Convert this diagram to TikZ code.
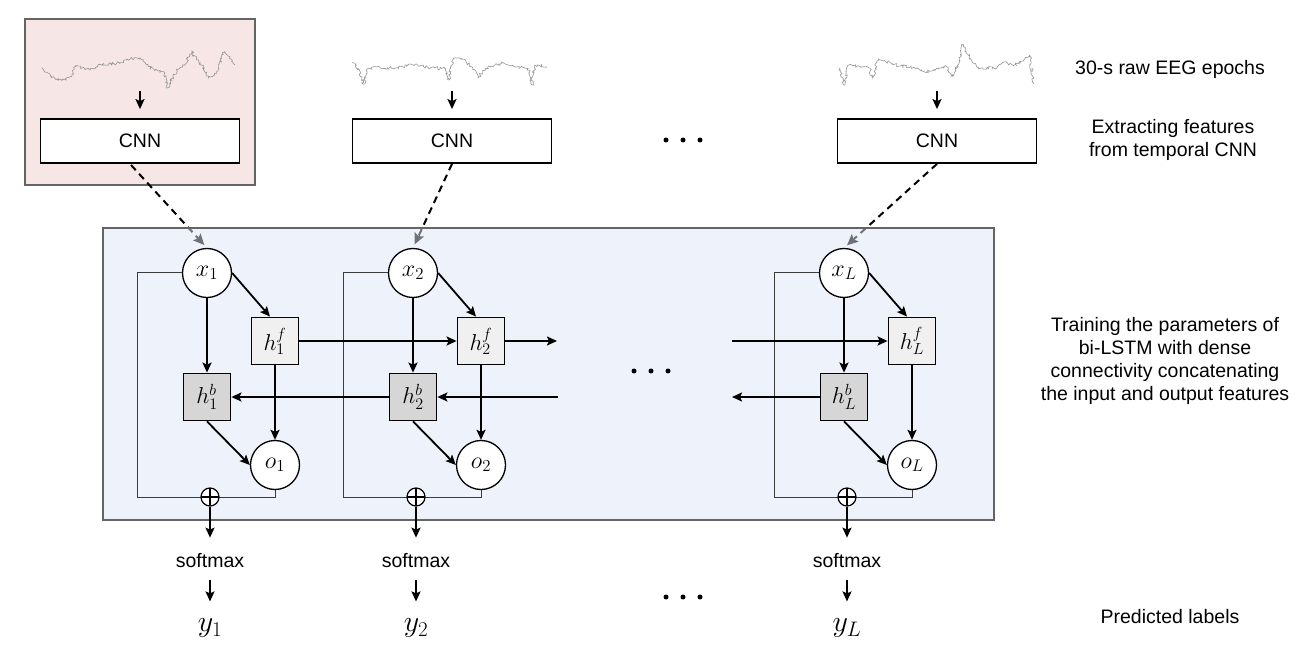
\RequirePackage{fix-cm}
\documentclass[tikz,border=0pt]{standalone}
\usepackage{fontspec}
\setmainfont{Liberation Sans}
\usetikzlibrary{arrows.meta,decorations.pathmorphing,calc}
\definecolor{pinkbg}{RGB}{247,230,230}
\definecolor{bluebg}{RGB}{221,229,245}
\definecolor{framecol}{RGB}{100,100,100}
\definecolor{hfcol}{RGB}{240,240,240}
\definecolor{hbcol}{RGB}{214,214,214}
\definecolor{eegcol}{RGB}{150,150,150}
\definecolor{loopcol}{RGB}{60,60,60}
\begin{document}
\begin{tikzpicture}[x=1pt,y=-1pt,
  lbl/.style={font=\fontsize{19.5}{23}\selectfont, align=center, inner sep=0pt},
  ylbl/.style={font=\fontsize{30}{34}\selectfont, inner sep=0pt},
  cnnbox/.style={draw, line width=1.8pt, fill=white, minimum width=199pt, minimum height=44pt, inner sep=0pt, font=\fontsize{19.5}{23}\selectfont},
  xnode/.style={circle, draw, line width=1.3pt, fill=white, minimum size=49pt, inner sep=0pt, font=\fontsize{24}{28}\selectfont},
  hfbox/.style={draw, line width=1.8pt, fill=hfcol, minimum size=47pt, inner sep=0pt, font=\fontsize{23}{27}\selectfont},
  hbbox/.style={hfbox, fill=hbcol},
  arr/.style={line width=1.8pt, -{Stealth[length=10pt,width=9pt,inset=2pt]}},
  feed/.style={line width=2pt, dash pattern=on 7pt off 5pt, -{Stealth[length=11pt,width=10pt,inset=2pt]}},
  loopline/.style={line width=1pt, draw=loopcol},
  oplus/.style={circle, draw, line width=1.2pt, fill=white, minimum size=18pt, inner sep=0pt,
    path picture={\draw[line width=1.2pt] (path picture bounding box.north) -- (path picture bounding box.south) (path picture bounding box.west) -- (path picture bounding box.east);}},
  eegline/.style={draw=eegcol, line width=0.6pt, line join=round, decorate, decoration={random steps, segment length=1.3pt, amplitude=1.6pt}},
  bigdot/.style={circle, fill=black, inner sep=0pt, minimum size=5pt}
]
\useasboundingbox (0,0) rectangle (1310,652);
\pgfmathsetseed{11}

% pink frame around first CNN
\draw[fill=pinkbg, draw=framecol, line width=2pt] (25,19) rectangle (255,185);

% EEG signals
\draw[eegline] (41.7,67.7) -- (51.7,77.7) -- (63,80) -- (71.7,76.7) -- (75,65.7) -- (90,70) -- (100,64.3) -- (116.7,63.3) -- (130,59) -- (140,57.7) -- (148.3,66.7) -- (158.3,71) -- (163.3,71.7) -- (167.7,87.7) -- (176.7,70) -- (185,65) -- (191.7,51) -- (196.7,60) -- (203.3,66.7) -- (208.3,78.3) -- (216.7,73.3) -- (222.7,52.3) -- (230,56.7) -- (235,64.3);
\draw[eegline] (352.3,62.3) -- (358.3,68.3) -- (363.3,84.3) -- (368.3,68.3) -- (378,66.7) -- (395,68.3) -- (411.7,64.3) -- (428.3,67.7) -- (445,68.3) -- (449,80) -- (453.3,58.3) -- (465,60) -- (471.7,66.7) -- (478.3,77.7) -- (485,68.3) -- (501.7,63.3) -- (518.3,66.7) -- (528.3,68.3) -- (531.7,85) -- (535,65) -- (546.7,66.7);
\draw[eegline] (840,67.7) -- (844,85) -- (848.3,65) -- (863.3,66.7) -- (870,68.3) -- (872.3,78.3) -- (878.3,59) -- (896.7,65) -- (916.7,68.3) -- (926.7,71.7) -- (946.7,66.7) -- (951.7,76.7) -- (956.7,68.3) -- (962.7,45) -- (970,58.3) -- (978.3,68.3) -- (996.7,68.3) -- (1003.3,62.3) -- (1013.3,65.7) -- (1023.3,61) -- (1030,55) -- (1033.3,83.3);
\coordinate (e1) at (140,91);
\coordinate (e2) at (452,91);
\coordinate (e3) at (937,91);

% CNN boxes
\node[cnnbox] (cnn1) at (140,141) {CNN};
\node[cnnbox] (cnn2) at (452,141) {CNN};
\node[cnnbox] (cnn3) at (937,141) {CNN};
\draw[arr, shorten >=9pt] (e1) -- (cnn1.north);
\draw[arr, shorten >=9pt] (e2) -- (cnn2.north);
\draw[arr, shorten >=9pt] (e3) -- (cnn3.north);

% feed arrows (drawn before the translucent panel)
\coordinate (xc1) at (207,248);
\coordinate (xc2) at (413,248);
\coordinate (xc3) at (844,248);
\coordinate (fs1) at (131,165);
\draw[feed, shorten >=4pt] (fs1) -- (xc1);
\draw[feed, shorten >=4pt] (cnn2.south) -- (xc2);
\draw[feed, shorten >=4pt] (cnn3.south) -- (xc3);

% blue panel
\fill[bluebg, fill opacity=0.5] (103,228) rectangle (994,520);
\draw[draw=framecol, line width=2pt] (103,228) rectangle (994,520);

% columns
\foreach \c/\X/\s in {1/207/1, 2/413/2, L/844/L}{
  \node[xnode] (x\c) at (\X,273) {$x_{\s}$};
  \node[hfbox] (hf\c) at (\X+68,341) {$h_{\s}^{f}$};
  \node[hbbox] (hb\c) at (\X,397) {$h_{\s}^{b}$};
  \node[xnode] (o\c) at (\X+68,465) {$o_{\s}$};
  \coordinate (ll\c) at (\X-70,497);
  \draw[loopline] (x\c.west) -| (ll\c) -| (o\c.south);
  \node[oplus] (p\c) at (\X+3,497) {};
  \draw[arr] (x\c.south) -- (hb\c.north);
  \draw[arr] (x\c.east) -- ([xshift=-5pt]hf\c.north);
  \draw[arr] (hf\c.south) -- (o\c.north);
  \draw[arr] (hb\c.south) -- (o\c.west);
  \node[lbl] (sm\c) at (\X+3,561) {softmax};
  \node[ylbl] (y\c) at (\X+3,628) {$y_{\s}$};
  \draw[arr, shorten >=16pt] (p\c.south) -- (sm\c.north);
  \draw[arr, shorten <=12pt, shorten >=17pt] (sm\c.south) -- (y\c.north);
}

% recurrent connections
\coordinate (fo2) at (557,341);
\coordinate (fiL) at (732,341);
\coordinate (bi2) at (558,397);
\coordinate (boL) at (732,397);
\draw[arr] (hf1.east) -- (hf2.west);
\draw[arr] (hf2.east) -- (fo2);
\draw[arr] (fiL) -- (hfL.west);
\draw[arr] (bi2) -- (hb2.east);
\draw[arr] (hb2.west) -- (hb1.east);
\draw[arr] (hbL.west) -- (boL);

% ellipsis dots
\foreach \yy/\xx in {140/683, 371/651, 597/683}{
  \node[bigdot] at (\xx-17,\yy) {};
  \node[bigdot] at (\xx,\yy) {};
  \node[bigdot] at (\xx+17,\yy) {};
}

% right-hand labels
\node[lbl] (t1) at (1170,69) {30-s raw EEG epochs};
\node[lbl] (t2) at (1173,140) {Extracting features\\from temporal CNN};
\node[lbl] (t3) at (1165,361) {Training the parameters of\\bi-LSTM with dense\\connectivity concatenating\\the input and output features};
\node[lbl] (t4) at (1170,617) {Predicted labels};
\end{tikzpicture}
\end{document}
